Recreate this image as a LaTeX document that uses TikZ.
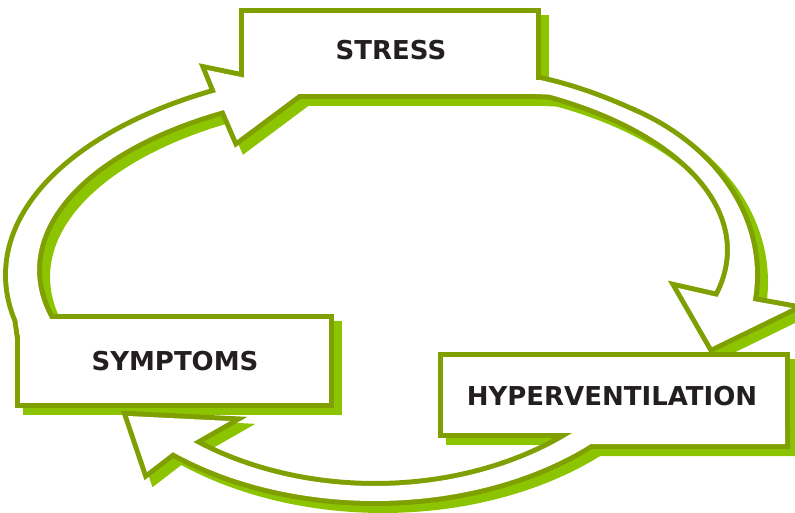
\documentclass[tikz,border=0pt]{standalone}
\usepackage{fontspec}
\setmainfont{DejaVu Sans}
\definecolor{olivestroke}{HTML}{7FA000}
\definecolor{shadowgreen}{HTML}{8CC400}
\definecolor{inkdark}{HTML}{231F20}
\begin{document}
\begin{tikzpicture}[x=1pt,y=-1pt,
  shadowlayer/.style={fill=shadowgreen,draw=shadowgreen,line width=10pt,line join=miter,shift={(8,7)}},
  strokelayer/.style={draw=olivestroke,line width=10pt,line join=miter},
  filllayer/.style={fill=white},
  label/.style={inner sep=0pt,text=inkdark,font=\fontsize{26}{30}\selectfont\bfseries}]
\useasboundingbox (0,0) rectangle (795,512);
\def\boxStress{(244,12.5) rectangle (536,93.5)}
\def\boxSymptoms{(19.5,319) rectangle (329,403)}
\def\boxHyper{(442.5,356.5) rectangle (785,432.5)}
\def\arrowL{(46,335) -- (50.2,318.9)
  -- plot[variable=\t,samples=60,domain=164.5:241] ({400+363*cos(\t)},{270+183*sin(\t)})
  -- (237,140) -- (304,90) -- (207,70) -- (216,92)
  -- plot[variable=\t,samples=60,domain=242:167.5] ({400+392*cos(\t)},{275+207*sin(\t)})
  -- (19.5,335) -- cycle}
\def\arrowR{(525,80) -- (540,80) .. controls (575,88) and (602.5,98) .. (637.5,114)
  -- plot[variable=\t,samples=60,domain=-60:8] ({520+235*cos(\t)},{275+186*sin(\t)})
  -- (792,308) -- (712,347) -- (678,288) -- (717.6,297)
  -- plot[variable=\t,samples=60,domain=15.5:-62] ({390+340*cos(\t)},{250+176*sin(\t)})
  -- (525,93.5) -- cycle}
\def\arrowB{(785,430) -- (583,426)
  -- plot[variable=\t,samples=60,domain=46:127.3] ({375+300*cos(\t)},{271+215*sin(\t)})
  -- (230,421) -- (128,416) -- (147,472) -- (173,452)
  -- plot[variable=\t,samples=60,domain=129.9:46.8] ({375+315*cos(\t)},{291+210*sin(\t)})
  -- (785,444) -- cycle}
% shadows
\path[shadowlayer] \arrowL;
\path[shadowlayer] \arrowR;
\path[shadowlayer] \arrowB;
\path[shadowlayer] \boxStress;
\path[shadowlayer] \boxSymptoms;
\path[shadowlayer] \boxHyper;
% outlines
\path[strokelayer] \arrowL;
\path[strokelayer] \arrowR;
\path[strokelayer] \arrowB;
\path[strokelayer] \boxStress;
\path[strokelayer] \boxSymptoms;
\path[strokelayer] \boxHyper;
% interiors
\path[filllayer] \arrowL;
\path[filllayer] \arrowR;
\path[filllayer] \arrowB;
\path[filllayer] \boxStress;
\path[filllayer] \boxSymptoms;
\path[filllayer] \boxHyper;
% labels
\node[label] (stress) at (391,50) {STRESS};
\node[label] (symptoms) at (175,361) {SYMPTOMS};
\node[label] (hyper) at (612,396) {HYPERVENTILATION};
\end{tikzpicture}
\end{document}
